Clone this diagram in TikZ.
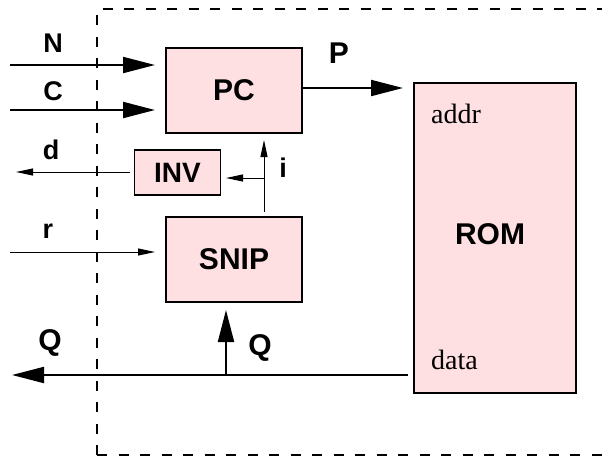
\documentclass[tikz,border=0pt]{standalone}
\usepackage{fontspec}
\setmainfont{Liberation Serif}
\newfontfamily\hel{Liberation Sans}
\usetikzlibrary{arrows.meta}
\definecolor{boxpink}{RGB}{255,224,226}
\tikzset{
  blk/.style={draw=black, line width=1.5pt, fill=boxpink, inner sep=0pt, font=\hel\bfseries\fontsize{30}{32}\selectfont},
  lbl/.style={inner sep=0pt, font=\hel\bfseries\fontsize{27}{30}\selectfont},
  port/.style={inner sep=0pt, font=\fontsize{28}{30}\selectfont, anchor=base west},
  thickarr/.style={line width=2pt, -{Triangle[length=32pt,width=16pt]}},
  thinarr/.style={line width=1pt, -{Triangle[length=17pt,width=7pt]}},
  border/.style={line width=1.8pt, dash pattern=on 10pt off 11.5pt},
}
\begin{document}
\begin{tikzpicture}[x=1pt,y=-1pt]
\useasboundingbox (0,0) rectangle (602,459);
% dashed boundary
\draw[border] (97,455) -- (97,9) -- (602,9);
\draw[border] (97,455) -- (602,455);
% blocks
\node[blk, minimum width=136pt, minimum height=85pt] (PC) at (234,90.5) {PC};
\node[blk, minimum width=86pt, minimum height=45pt, font=\hel\bfseries\fontsize{28}{30}\selectfont] (INV) at (177.5,172.5) {INV};
\node[blk, minimum width=136pt, minimum height=85pt] (SNIP) at (234,259.5) {SNIP};
\node[blk, minimum width=162pt, minimum height=310pt] (ROM) at (495,238) {};
\node[lbl, font=\hel\bfseries\fontsize{30}{32}\selectfont] (romt) at (490,234.5) {ROM};
\node[port] (addr) at (431,123) {addr};
\node[port] (data) at (431,369) {data};
% coordinates
\coordinate (nin) at (10,65);
\coordinate (nend) at (155,65);
\coordinate (cin) at (10,110);
\coordinate (cend) at (155,110);
\coordinate (rin) at (10,252);
\coordinate (rend) at (155,252);
\coordinate (dstart) at (130,172);
\coordinate (dend) at (16,172);
\coordinate (isrc) at (264,212);
\coordinate (itop) at (264,140);
\coordinate (ibr) at (264,178);
\coordinate (iend) at (226,178);
\coordinate (pstart) at (302,88);
\coordinate (pend) at (403,88);
\coordinate (qstart) at (408,375);
\coordinate (qend) at (12,375);
\coordinate (qbr) at (226,375);
\coordinate (qtop) at (226,310);
% connectors
\draw[thickarr] (nin) -- (nend);
\draw[thickarr] (cin) -- (cend);
\draw[thinarr] (rin) -- (rend);
\draw[thinarr] (dstart) -- (dend);
\draw[line width=1pt] (isrc) -- (ibr);
\draw[thinarr] (ibr) -- (itop);
\draw[thinarr] (ibr) -- (iend);
\draw[thickarr] (pstart) -- (pend);
\draw[thickarr] (qstart) -- (qend);
\draw[thickarr] (qbr) -- (qtop);
% labels
\node[lbl] (lN) at (53,43) {N};
\node[lbl] (lC) at (53,91) {C};
\node[lbl] (ld) at (51,150) {d};
\node[lbl] (lr) at (48,231) {r};
\node[lbl] (li) at (283,168) {i};
\node[lbl, font=\hel\bfseries\fontsize{30}{32}\selectfont] (lP) at (339,53) {P};
\node[lbl, font=\hel\bfseries\fontsize{30}{32}\selectfont] (lQ1) at (50,343) {Q};
\node[lbl, font=\hel\bfseries\fontsize{30}{32}\selectfont] (lQ2) at (260,348) {Q};
\end{tikzpicture}
\end{document}
